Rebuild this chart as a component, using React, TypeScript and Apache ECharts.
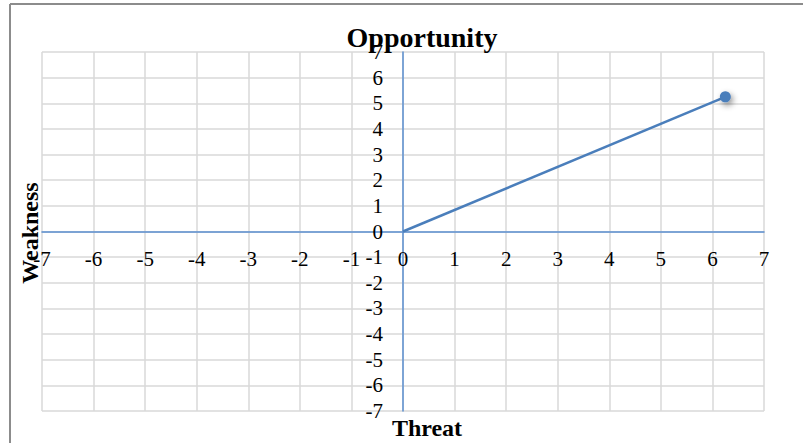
import React, { useEffect, useRef } from "react";
import * as echarts from "echarts";

const xTicks = { min: -7, max: 7, interval: 1 };
const yTicks = { min: -7, max: 7, interval: 1 };
const linePoints: [number, number][] = [
  [0, 0],
  [6.25, 5.25],
];
const titleText = "Opportunity";
const xName = "Threat";
const yName = "Weakness";

const FONT = "'Liberation Serif', 'Times New Roman', serif";

const GRID = { left: 42, right: 39, top: 52, bottom: 32 };
const W = 803;
const H = 443;

export default function App() {
  const ref = useRef<HTMLDivElement>(null);
  useEffect(() => {
    if (!ref.current) return;
    const chart = echarts.init(ref.current, undefined, { renderer: "svg" });
    const gw = W - GRID.left - GRID.right;
    const gh = H - GRID.top - GRID.bottom;
    chart.setOption({
      animation: false,
      backgroundColor: "#ffffff",
      grid: { ...GRID, containLabel: false },
      xAxis: {
        type: "value",
        min: xTicks.min,
        max: xTicks.max,
        interval: xTicks.interval,
        position: "bottom",
        offset: -gh / 2,
        axisLine: { onZero: false, lineStyle: { color: "#5b8fd0", width: 1.5 } },
        axisTick: { show: false },
        axisLabel: {
          color: "#000",
          fontFamily: FONT,
          fontSize: 21,
          margin: 17,
          showMinLabel: true,
          showMaxLabel: true,
        },
        splitLine: { show: true, lineStyle: { color: "#d9d9d9", width: 1.5 } },
      },
      yAxis: {
        type: "value",
        min: yTicks.min,
        max: yTicks.max,
        interval: yTicks.interval,
        position: "left",
        offset: -gw / 2,
        axisLine: { onZero: false, lineStyle: { color: "#5b8fd0", width: 1.5 } },
        axisTick: { show: false },
        axisLabel: {
          color: "#000",
          fontFamily: FONT,
          fontSize: 21,
          margin: 20,
          showMinLabel: true,
          showMaxLabel: true,
        },
        splitLine: { show: true, lineStyle: { color: "#d9d9d9", width: 1.5 } },
      },
      series: [
        {
          type: "line",
          data: linePoints.map((p, i) =>
            i === 0
              ? { value: p, symbol: "none" }
              : { value: p, symbol: "circle", symbolSize: 11 }
          ),
          lineStyle: { color: "#4a7ebb", width: 2.5 },
          itemStyle: {
            color: "#4a7ebb",
            shadowColor: "rgba(0,0,0,0.45)",
            shadowBlur: 6,
            shadowOffsetX: 2,
            shadowOffsetY: 3,
          },
          z: 5,
        },
      ],
      graphic: [
        {
          type: "line",
          shape: { x1: 10, y1: 4, x2: 803, y2: 4 },
          style: { stroke: "#8c8c8c", lineWidth: 2 },
        },
        {
          type: "line",
          shape: { x1: 10, y1: 4, x2: 10, y2: 443 },
          style: { stroke: "#8c8c8c", lineWidth: 2 },
        },
        {
          type: "text",
          x: 422,
          y: 37,
          style: {
            text: titleText,
            font: `bold 28px ${FONT}`,
            fill: "#000",
            textAlign: "center",
            textVerticalAlign: "middle",
          },
          z: 10,
        },
        {
          type: "text",
          x: 427,
          y: 428,
          style: {
            text: xName,
            font: `bold 24px ${FONT}`,
            fill: "#000",
            textAlign: "center",
            textVerticalAlign: "middle",
          },
          z: 10,
        },
        {
          type: "text",
          x: 30,
          y: 233,
          rotation: Math.PI / 2,
          style: {
            text: yName,
            font: `bold 24px ${FONT}`,
            fill: "#000",
            textAlign: "center",
            textVerticalAlign: "middle",
          },
          z: 10,
        },
      ],
    });
    return () => chart.dispose();
  }, []);
  return (
    <div
      ref={ref}
      style={{ position: "absolute", left: 0, top: 0, width: W, height: H }}
    />
  );
}
